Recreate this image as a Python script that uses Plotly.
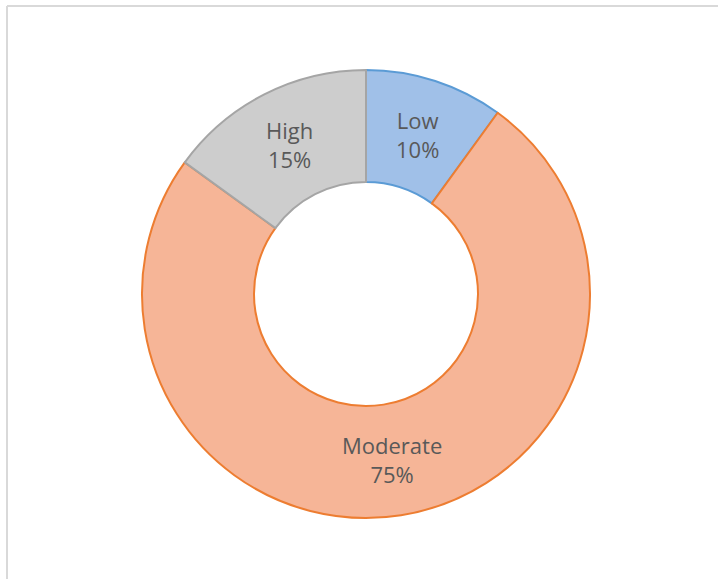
import math
import plotly.graph_objects as go

categories = ["Low", "Moderate", "High"]
values = [10, 75, 15]
fill_colors = ["#a0c0e8", "#f6b597", "#cdcdcd"]
line_colors = ["#5b9bd5", "#ed7d31", "#a5a5a5"]

W, H = 718, 579
cx, cy, r = 366, 294, 224
hole = 0.5

fig = go.Figure(go.Pie(
    labels=categories,
    values=values,
    hole=hole,
    sort=False,
    direction="clockwise",
    rotation=0,
    marker=dict(colors=fill_colors, line=dict(color=line_colors, width=2)),
    textinfo="none",
    domain=dict(x=[(cx - r) / W, (cx + r) / W], y=[1 - (cy + r) / H, 1 - (cy - r) / H]),
    showlegend=False,
    hoverinfo="label+percent",
))

# Labels at mid-angle, mid-radius of each slice (Excel-style placement)
total = sum(values)
annotations = []
cum = 0.0
rm = r * (1 + hole) / 2
for cat, v in zip(categories, values):
    mid = (cum + v / 2) / total * 2 * math.pi
    cum += v
    px = cx + rm * math.sin(mid)
    py = cy - rm * math.cos(mid)
    annotations.append(dict(
        x=px / W, y=1 - py / H, xref="paper", yref="paper",
        text=f"{cat}<br>{round(100 * v / total)}%",
        showarrow=False, xanchor="center", yanchor="middle",
        font=dict(family="Open Sans", size=22, color="#595959"),
    ))

fig.update_layout(
    width=W, height=H,
    margin=dict(l=0, r=0, t=0, b=0),
    paper_bgcolor="white",
    plot_bgcolor="white",
    annotations=annotations,
    shapes=[
        dict(type="line", xref="paper", yref="paper", x0=7 / W, x1=1, y0=1 - 6 / H, y1=1 - 6 / H,
             line=dict(color="#d9d9d9", width=2)),
        dict(type="line", xref="paper", yref="paper", x0=7 / W, x1=7 / W, y0=0, y1=1 - 6 / H,
             line=dict(color="#d9d9d9", width=2)),
    ],
)

fig.write_html("out.html")
